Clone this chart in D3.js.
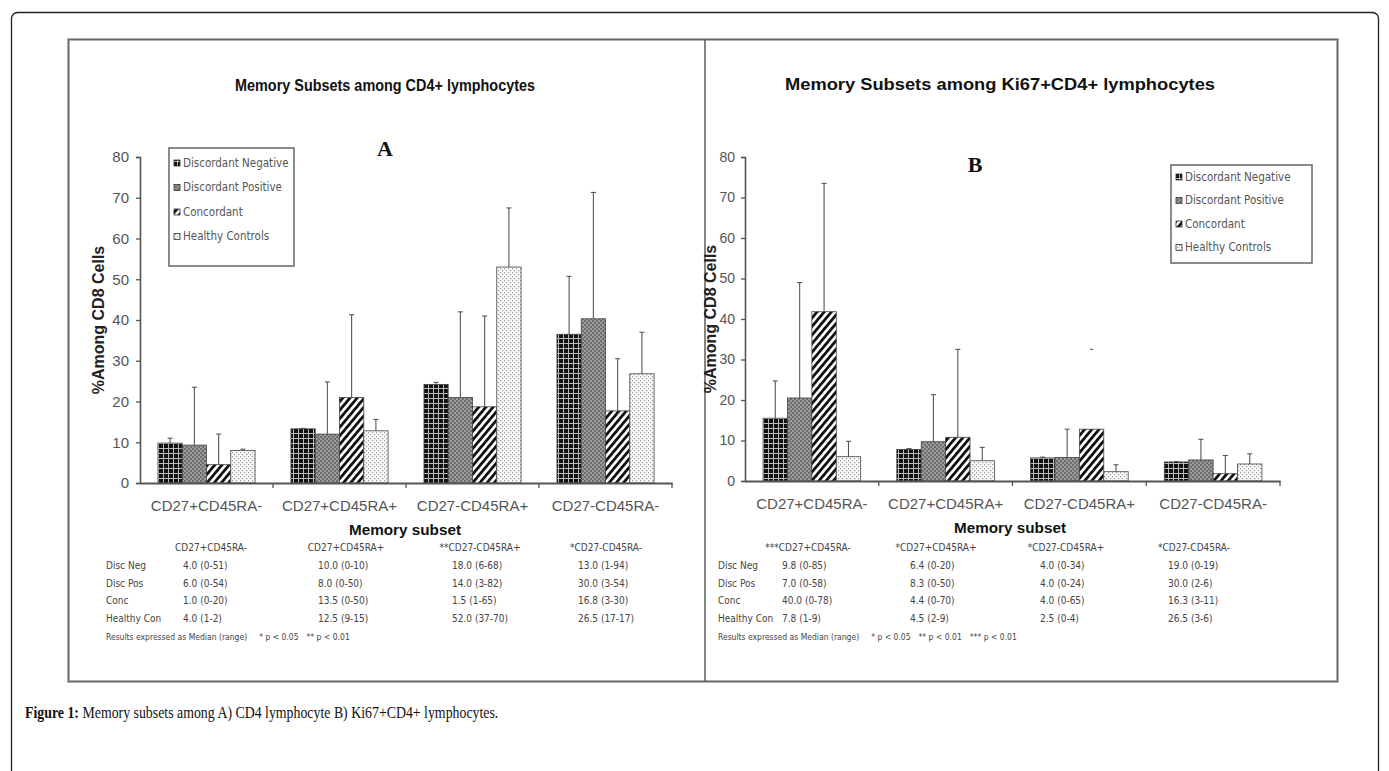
<!DOCTYPE html>
<html><head><meta charset="utf-8">
<script src="https://cdn.jsdelivr.net/npm/d3@7"></script>
<style>
html,body{margin:0;padding:0;background:#fff;}
svg{display:block;}
</style></head>
<body>
<svg id="chart" width="1389" height="771"></svg>
<script>
// ---------- DATA ----------
const categories = ["CD27+CD45RA-","CD27+CD45RA+","CD27-CD45RA+","CD27-CD45RA-"];
const seriesNames = ["Discordant Negative","Discordant Positive","Concordant","Healthy Controls"];
const yTicks = [0,10,20,30,40,50,60,70,80];

// Panel A: bar heights and error-bar tops
const aDiscNeg = [9.8, 13.3, 24.2, 36.5];
const aDiscPos = [9.3, 12.0, 21.0, 40.3];
const aConc    = [4.5, 21.0, 18.7, 17.7];
const aHealthy = [8.0, 12.8, 53.0, 26.8];
const aDiscNegErr = [11.0, 13.4, 24.7, 50.7];
const aDiscPosErr = [23.5, 24.8, 42.0, 71.3];
const aConcErr    = [12.0, 41.3, 41.0, 30.5];
const aHealthyErr = [8.3, 15.6, 67.5, 37.0];

// Panel B
const bDiscNeg = [15.5, 7.8, 5.7, 4.7];
const bDiscPos = [20.5, 9.7, 5.8, 5.2];
const bConc    = [41.8, 10.8, 12.8, 1.8];
const bHealthy = [6.0, 5.0, 2.3, 4.2];
const bDiscNegErr = [24.7, 8.0, 5.9, 4.8];
const bDiscPosErr = [49.0, 21.3, 12.8, 10.3];
const bConcErr    = [73.5, 32.5, 32.5, 6.3];
const bHealthyErr = [9.8, 8.3, 4.0, 6.7];

// Tables
const rowLabels = ["Disc Neg","Disc Pos","Conc","Healthy Con"];
const aTableHead = ["CD27+CD45RA-","CD27+CD45RA+","**CD27-CD45RA+","*CD27-CD45RA-"];
const aTableRows = [
  ["4.0 (0-51)","10.0 (0-10)","18.0 (6-68)","13.0 (1-94)"],
  ["6.0 (0-54)","8.0 (0-50)","14.0 (3-82)","30.0 (3-54)"],
  ["1.0 (0-20)","13.5 (0-50)","1.5 (1-65)","16.8 (3-30)"],
  ["4.0 (1-2)","12.5 (9-15)","52.0 (37-70)","26.5 (17-17)"]
];
const aNote = "Results expressed as Median (range)";
const aSig = ["* p < 0.05", "** p < 0.01"];
const bTableHead = ["***CD27+CD45RA-","*CD27+CD45RA+","*CD27-CD45RA+","*CD27-CD45RA-"];
const bTableRows = [
  ["9.8 (0-85)","6.4 (0-20)","4.0 (0-34)","19.0 (0-19)"],
  ["7.0 (0-58)","8.3 (0-50)","4.0 (0-24)","30.0 (2-6)"],
  ["40.0 (0-78)","4.4 (0-70)","4.0 (0-65)","16.3 (3-11)"],
  ["7.8 (1-9)","4.5 (2-9)","2.5 (0-4)","26.5 (3-6)"]
];
const bNote = "Results expressed as Median (range)";
const bSig = ["* p < 0.05", "** p < 0.01", "*** p < 0.01"];

const titleA = "Memory Subsets among CD4+ lymphocytes";
const titleB = "Memory Subsets among Ki67+CD4+ lymphocytes";
const yTitle = "%Among CD8 Cells";
const xTitle = "Memory subset";

// ---------- DRAW ----------
const svg = d3.select("#chart");
const defs = svg.append("defs");

// patterns
const pDN = defs.append("pattern").attr("id","pDN").attr("patternUnits","userSpaceOnUse").attr("width",5).attr("height",5);
pDN.append("rect").attr("width",5).attr("height",5).attr("fill","#111");
pDN.append("rect").attr("x",3).attr("width",1).attr("height",5).attr("fill","#bbb");
pDN.append("rect").attr("y",3).attr("width",5).attr("height",1).attr("fill","#bbb");

const pDP = defs.append("pattern").attr("id","pDP").attr("patternUnits","userSpaceOnUse").attr("width",4).attr("height",4);
pDP.append("rect").attr("width",4).attr("height",4).attr("fill","#9a9a9a");
pDP.append("rect").attr("x",0).attr("y",0).attr("width",2).attr("height",2).attr("fill","#6e6e6e");
pDP.append("rect").attr("x",2).attr("y",2).attr("width",2).attr("height",2).attr("fill","#6e6e6e");

const pCO = defs.append("pattern").attr("id","pCO").attr("patternUnits","userSpaceOnUse").attr("width",5.5).attr("height",6).attr("patternTransform","rotate(40)");
pCO.append("rect").attr("width",5.5).attr("height",6).attr("fill","#fff");
pCO.append("rect").attr("width",2.8).attr("height",6).attr("fill","#111");

const pHC = defs.append("pattern").attr("id","pHC").attr("patternUnits","userSpaceOnUse").attr("width",4).attr("height",4);
pHC.append("rect").attr("width",4).attr("height",4).attr("fill","#fafafa");
pHC.append("rect").attr("x",0).attr("y",0).attr("width",1.2).attr("height",1.2).attr("fill","#999");
pHC.append("rect").attr("x",2).attr("y",2).attr("width",1.2).attr("height",1.2).attr("fill","#999");

const fills = ["url(#pDN)","url(#pDP)","url(#pCO)","url(#pHC)"];

// outer frame
svg.append("rect").attr("x",11.5).attr("y",12.5).attr("width",1367).attr("height",800).attr("rx",6)
  .attr("fill","none").attr("stroke","#222").attr("stroke-width",1.3);
// inner image frame
svg.append("rect").attr("x",68.5).attr("y",39.5).attr("width",1269).attr("height",642)
  .attr("fill","#fff").attr("stroke","#bbb").attr("stroke-width",3);
svg.append("rect").attr("x",68.5).attr("y",39.5).attr("width",1269).attr("height",642)
  .attr("fill","none").attr("stroke","#666").attr("stroke-width",1.2);
svg.append("line").attr("x1",705).attr("x2",705).attr("y1",40).attr("y2",681)
  .attr("stroke","#444").attr("stroke-width",1.3);

const sans = "'Liberation Sans', Arial, sans-serif";
const narrow = "'Liberation Sans Narrow','DejaVu Sans Condensed','Liberation Sans',sans-serif";

function panel(cfg){
  const g = svg.append("g");
  const x = d3.scaleBand().domain(categories).range([cfg.x0, cfg.x1]).paddingInner(0.27).paddingOuter(0.135);
  const xs = d3.scaleBand().domain(seriesNames).range([0, x.bandwidth()]);
  const y = d3.scaleLinear().domain([0,80]).range([cfg.y0, cfg.y1]);

  // title
  g.append("text").attr("x",cfg.titleX).attr("y",cfg.titleY).attr("text-anchor","middle")
    .attr("font-family",sans).attr("font-weight","bold").attr("font-size",17)
    .attr("fill","#111").attr("textLength",cfg.titleW).attr("lengthAdjust","spacingAndGlyphs")
    .text(cfg.title);
  // panel letter
  g.append("text").attr("x",cfg.letterX).attr("y",cfg.letterY).attr("text-anchor","middle")
    .attr("font-family","'Liberation Serif','Times New Roman',serif").attr("font-weight","bold")
    .attr("font-size",22).attr("fill","#111").text(cfg.letter);

  // bars
  const series = cfg.series;
  series.forEach((s,si)=>{
    g.append("g").selectAll("rect").data(categories).join("rect")
      .attr("x",(c)=>x(c)+xs(seriesNames[si]))
      .attr("y",(c,i)=>y(s.v[i]))
      .attr("width",xs.bandwidth())
      .attr("height",(c,i)=>y(0)-y(s.v[i]))
      .attr("fill",fills[si]).attr("stroke","#444").attr("stroke-width",0.8);
    const eg = g.append("g").attr("stroke","#555").attr("stroke-width",1.1);
    categories.forEach((c,i)=>{
      const cx = x(c)+xs(seriesNames[si])+xs.bandwidth()/2;
      if (s.noLine && s.noLine[i]) {
        eg.append("line").attr("x1",cx-1.5).attr("x2",cx+1.5).attr("y1",y(s.e[i])).attr("y2",y(s.e[i]));
        return;
      }
      if (s.e[i] > s.v[i]) {
        eg.append("line").attr("x1",cx).attr("x2",cx).attr("y1",y(s.v[i])).attr("y2",y(s.e[i]));
      }
      eg.append("line").attr("x1",cx-2.5).attr("x2",cx+2.5).attr("y1",y(s.e[i])).attr("y2",y(s.e[i]));
    });
  });

  // y axis
  const ya = g.append("g").attr("transform",`translate(${cfg.x0},0)`)
    .call(d3.axisLeft(y).tickValues(yTicks).tickSize(4).tickPadding(cfg.yPad).tickSizeOuter(4));
  ya.select(".domain").attr("stroke","#555").attr("stroke-width",1.6);
  ya.selectAll(".tick line").attr("stroke","#555").attr("stroke-width",1.3);
  ya.selectAll(".tick text").attr("font-family",sans).attr("font-size",cfg.yFont).attr("fill","#555");

  // x axis
  const xa = g.append("g").attr("transform",`translate(0,${cfg.y0})`)
    .call(d3.axisBottom(x).tickSize(0).tickPadding(17).tickSizeOuter(0));
  xa.select(".domain").attr("stroke","#555").attr("stroke-width",1.8);
  xa.selectAll(".tick text").attr("font-family",sans).attr("font-size",15).attr("fill","#555");
  // category boundary ticks
  const bounds = d3.range(1, categories.length+1).map(k=>cfg.x0 + k*x.step());
  xa.selectAll("line.bt").data(bounds).join("line").attr("class","bt")
    .attr("x1",d=>d).attr("x2",d=>d).attr("y1",0).attr("y2",5).attr("stroke","#555").attr("stroke-width",1.3);

  // y title
  g.append("text").attr("transform",`translate(${cfg.yTitleX},${(cfg.y0+cfg.y1)/2}) rotate(-90)`)
    .attr("text-anchor","middle").attr("font-family",sans).attr("font-weight","bold")
    .attr("font-size",16).attr("fill","#222").text(yTitle);
  // x title
  g.append("text").attr("x",cfg.xTitleX).attr("y",cfg.y0+52).attr("text-anchor","middle")
    .attr("font-family",sans).attr("font-weight","bold").attr("font-size",15).attr("fill","#111")
    .attr("textLength",112).attr("lengthAdjust","spacingAndGlyphs").text(xTitle);

  // legend
  const lg = g.append("g").attr("transform",`translate(${cfg.legX},${cfg.legY})`);
  lg.append("rect").attr("width",cfg.legW).attr("height",cfg.legH).attr("fill","#fff")
    .attr("stroke","#666").attr("stroke-width",1.5);
  seriesNames.forEach((n,i)=>{
    const yy = cfg.legPad + i*cfg.legStep;
    lg.append("rect").attr("x",5).attr("y",yy-5).attr("width",6).attr("height",6)
      .attr("fill",fills[i]).attr("stroke","#333").attr("stroke-width",0.8);
    lg.append("text").attr("x",14).attr("y",yy+1.5).attr("font-family",narrow)
      .attr("font-size",11.5).attr("fill","#555").text(n);
  });

  // table
  const tg = g.append("g").attr("font-family",narrow).attr("font-size",10).attr("fill","#444");
  cfg.head.forEach((h,j)=>{
    tg.append("text").attr("x",cfg.colX[j]+cfg.headDx).attr("y",cfg.tabY).attr("text-anchor","middle").text(h);
  });
  rowLabels.forEach((r,i)=>{
    tg.append("text").attr("x",cfg.rowX).attr("y",cfg.tabY+18+i*17.7).text(r);
    cfg.rows[i].forEach((v,j)=>{
      tg.append("text").attr("x",cfg.colX[j]).attr("y",cfg.tabY+18+i*17.7).text(v);
    });
  });
  const noteY = cfg.tabY+18+4*17.7;
  const nt = tg.append("text").attr("x",cfg.rowX).attr("y",noteY).attr("font-size",8.5).text(cfg.note);
  let nx = cfg.rowX + nt.node().getComputedTextLength() + 12;
  cfg.sig.forEach((s)=>{
    const st = tg.append("text").attr("x",nx).attr("y",noteY).attr("font-size",8.5).text(s);
    nx += st.node().getComputedTextLength() + 8;
  });
}

panel({
  x0:140, x1:672, y0:483, y1:157, yPad:7, yFont:15,
  title:titleA, titleX:385, titleY:91, titleW:300,
  letter:"A", letterX:385, letterY:156,
  yTitleX:104, xTitleX:405,
  legX:169, legY:148, legW:125, legH:118, legPad:17, legStep:24.5,
  series:[
    {v:aDiscNeg, e:aDiscNegErr},
    {v:aDiscPos, e:aDiscPosErr},
    {v:aConc, e:aConcErr},
    {v:aHealthy, e:aHealthyErr}
  ],
  head:aTableHead, rows:aTableRows, note:aNote, sig:aSig,
  tabY:551, rowX:106, colX:[183,318,452,578], headDx:28
});

panel({
  x0:745, x1:1280, y0:481, y1:157, yPad:6, yFont:14,
  title:titleB, titleX:1000, titleY:90, titleW:430,
  letter:"B", letterX:975, letterY:172,
  yTitleX:716, xTitleX:1010,
  legX:1171, legY:165, legW:141, legH:98, legPad:14, legStep:23.5,
  series:[
    {v:bDiscNeg, e:bDiscNegErr},
    {v:bDiscPos, e:bDiscPosErr},
    {v:bConc, e:bConcErr, noLine:[false,false,true,false]},
    {v:bHealthy, e:bHealthyErr}
  ],
  head:bTableHead, rows:bTableRows, note:bNote, sig:bSig,
  tabY:551, rowX:718, colX:[782,910,1040,1168], headDx:26
});

// caption
const cap = svg.append("text").attr("transform","translate(25,718) scale(0.84,1)")
  .attr("font-family","'Liberation Serif','Times New Roman',serif").attr("font-size",16.5).attr("fill","#111");
cap.append("tspan").attr("font-weight","bold").text("Figure 1:");
cap.append("tspan").text(" Memory subsets among A) CD4 lymphocyte B) Ki67+CD4+ lymphocytes.");
</script>
</body></html>
